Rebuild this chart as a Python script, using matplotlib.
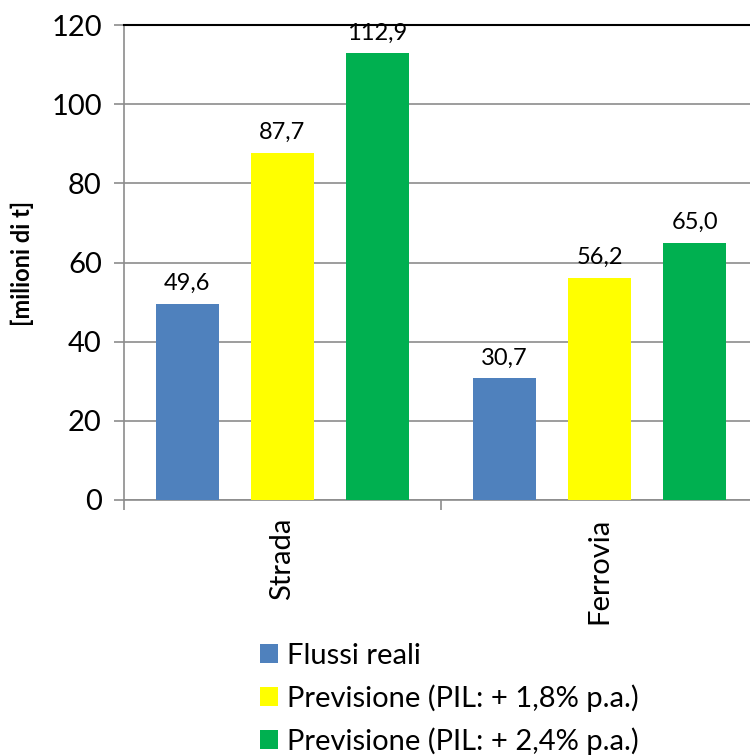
import numpy as np
import matplotlib.pyplot as plt
from matplotlib.ticker import FixedLocator

plt.rcParams['font.family'] = ['Lato', 'DejaVu Sans']

categorie = ['Strada', 'Ferrovia']
serie = ['Flussi reali', 'Previsione (PIL: + 1,8% p.a.)', 'Previsione (PIL: + 2,4% p.a.)']
valori = [
    [49.6, 30.7],
    [87.7, 56.2],
    [112.9, 65.0],
]
colori = ['#4F81BD', '#FFFF00', '#00B050']

fig = plt.figure(figsize=(7.5, 7.56), dpi=100)
ax = fig.add_axes([124 / 750, 1 - 500 / 756, 634 / 750, 475 / 756])

x = np.arange(len(categorie))
larg = 0.2
passo = 0.3
barre = []
for i, (nome, val, col) in enumerate(zip(serie, valori, colori)):
    b = ax.bar(x + (i - 1) * passo, val, larg, color=col, label=nome, zorder=3)
    barre.append(b)
    for rett, v in zip(b, val):
        ax.annotate(f'{v:.1f}'.replace('.', ','),
                    (rett.get_x() + rett.get_width() / 2, v),
                    xytext=(0, 7), textcoords='offset points',
                    ha='center', va='bottom', fontsize=17)

ax.set_xlim(-0.5, 1.5)
ax.set_ylim(0, 120)
ax.set_yticks(np.arange(0, 121, 20))
ax.tick_params(axis='y', labelsize=21, length=7, width=1.2, color='#8c8c8c', pad=9)
ax.yaxis.grid(True, color='#8c8c8c', linewidth=1.2, zorder=0)

ax.xaxis.set_major_locator(FixedLocator([-0.5, 0.5, 1.5]))
ax.set_xticklabels([])
ax.xaxis.set_minor_locator(FixedLocator(x))
ax.set_xticklabels(categorie, minor=True, rotation=90, fontsize=21, va='top')
ax.tick_params(axis='x', which='major', length=7, width=1.2, color='#8c8c8c')
ax.tick_params(axis='x', which='minor', length=0, pad=13)

for s in ['left', 'bottom']:
    ax.spines[s].set_color('#8c8c8c')
    ax.spines[s].set_linewidth(1.2)
ax.spines['right'].set_visible(False)
ax.spines['top'].set_color('black')
ax.spines['top'].set_linewidth(1.5)

fig.text(22 / 750, 1 - 263 / 756, '[milioni di t]', rotation=90, fontsize=17,
         fontweight='bold', ha='center', va='center')

fig.legend(handles=barre, loc='upper left', bbox_to_anchor=(260 / 750, 1 - 643 / 756),
           frameon=False, fontsize=21, handlelength=0.62, handleheight=0.62,
           handletextpad=0.3, labelspacing=0.52, borderaxespad=0, borderpad=0)

fig.savefig('out.png', dpi=100)
